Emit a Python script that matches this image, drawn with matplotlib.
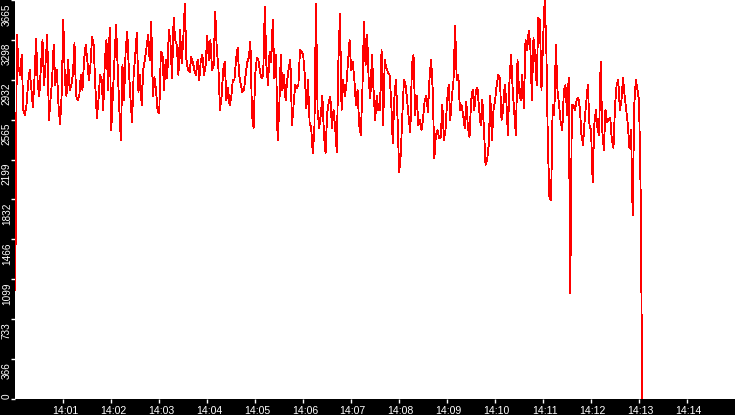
import datetime as dt
import matplotlib
matplotlib.use("Agg")
import matplotlib.pyplot as plt
from matplotlib.transforms import blended_transform_factory, offset_copy

# ---- data (one reading every 2 seconds, starting 14:00:00) ----
minute_00 = [1000, 3343, 3050, 2976, 3160, 2655, 2609, 2700, 2900, 3022,
             2850, 2682, 2950, 3307, 2900, 2783, 3050, 3297, 2884, 3100,
             3343, 2563, 2750, 2930, 3251, 2884, 3022, 2700, 2526, 2800]
minute_01 = [3480, 2930, 2783, 3114, 2838, 2884, 2976, 3270, 2783, 2746,
             2783, 2976, 2838, 3114, 3251, 3114, 2930, 3068, 3325, 3251,
             2884, 2581, 2746, 2976, 2930, 2655, 3114, 3297, 2838, 3408]
minute_02 = [2471, 2783, 3114, 3435, 3050, 2673, 2379, 3068, 2746, 3206,
             3371, 3022, 2765, 2544, 2976, 3160, 3362, 2820, 2976, 2700,
             3022, 3114, 3224, 3343, 3114, 3463, 2783, 2958, 2838, 2636]
minute_03 = [2627, 3187, 3178, 2838, 3114, 2948, 3389, 3279, 2948, 3500,
             3297, 3251, 2976, 3389, 3086, 3297, 3628, 3114, 3022, 3003,
             3141, 3095, 3022, 2976, 3114, 2930, 3114, 3160, 2976, 3068]
minute_04 = [3334, 3114, 3297, 3022, 3068, 3555, 3206, 3040, 2655, 2783,
             3022, 3095, 2746, 2857, 2700, 2765, 2930, 2930, 3114, 3224,
             2976, 2884, 2820, 2838, 2976, 3095, 3132, 3279, 2609, 2490]
minute_05 = [2976, 3132, 3114, 3003, 2948, 2976, 3600, 3068, 2884, 3187,
             3095, 3481, 2948, 3160, 2379, 2655, 3160, 2838, 2976, 2746,
             2930, 3040, 3114, 2517, 2700, 2884, 2857, 2884, 3206, 3187]
minute_06 = [3160, 2976, 2673, 2930, 2544, 2490, 2260, 2471, 3628, 2655,
             2490, 2609, 2783, 2425, 2260, 2627, 2728, 2774, 2490, 2655,
             2490, 2269, 3095, 3536, 2655, 2930, 2783, 2884, 3095, 3297]
minute_07 = [3022, 3095, 2930, 2700, 2838, 2517, 2425, 2820, 3463, 3068,
             3343, 2912, 2765, 3160, 2838, 2563, 2783, 2655, 2655, 3206,
             2517, 3114, 3040, 3003, 2976, 2746, 2351, 2765, 2930, 2581]
minute_08 = [2085, 2241, 2609, 2930, 2884, 2746, 2581, 2452, 3068, 3160,
             2609, 2783, 2517, 2563, 2471, 2581, 2746, 2783, 2636, 2948,
             3114, 2838, 2213, 2425, 2471, 2397, 2400, 2700, 2379, 2471]
minute_09 = [2746, 2884, 2563, 2783, 2930, 3426, 2930, 2976, 2655, 2700,
             2609, 2490, 2728, 2490, 2406, 2746, 2838, 2655, 2838, 2857,
             2655, 2517, 2746, 2490, 2150, 2195, 2333, 2783, 2379, 2655]
minute_10 = [2746, 2884, 2976, 2948, 2563, 2655, 2884, 2746, 2425, 2930,
             3160, 2838, 2636, 2425, 3114, 2820, 2746, 2976, 2673, 3297,
             3206, 3380, 3251, 2746, 3315, 3160, 2884, 3500, 3481, 2838]
minute_11 = [3297, 3665, 3251, 2333, 1837, 1828, 2700, 2609, 3251, 2838,
             2700, 2544, 2471, 2838, 2884, 2609, 2948, 974, 2700, 2700,
             2655, 2746, 2765, 2673, 2425, 2333, 2563, 2719, 2884, 2517]
minute_12 = [2471, 1993, 2517, 2655, 2490, 2425, 3095, 2471, 2287, 2655,
             2544, 2563, 2581, 2379, 2305, 2700, 2884, 2930, 2655, 2746,
             2948, 2783, 2655, 2517, 2305, 2471, 1690, 2700, 2930, 2838]
minute_13 = [2746, 1900, 0]

values = (minute_00 + minute_01 + minute_02 + minute_03 + minute_04 +
          minute_05 + minute_06 + minute_07 + minute_08 + minute_09 +
          minute_10 + minute_11 + minute_12 + minute_13)

start = dt.datetime(2024, 1, 1, 14, 0, 0)
sample_seconds = 2
times = [start + dt.timedelta(seconds=sample_seconds * i) for i in range(len(values))]

y_max = 3665
y_tick_labels = ["0", "366", "733", "1099", "1466", "1832",
                 "2199", "2565", "2932", "3298", "3665"]
x_tick_labels = ["14:01", "14:02", "14:03", "14:04", "14:05", "14:06", "14:07",
                 "14:08", "14:09", "14:10", "14:11", "14:12", "14:13", "14:14"]

# ---- figure ----
W, H = 735, 415
fig = plt.figure(figsize=(W / 100, H / 100), dpi=100, facecolor="black")
left_px, bottom_px = 15.3, 16
ax = fig.add_axes([left_px / W, bottom_px / H, (W - left_px) / W, (H - bottom_px) / H])
ax.set_facecolor("white")

ax.plot(times, values, color="#ff0000", lw=0.6, antialiased=False)

ax.set_xlim(start, start + dt.timedelta(minutes=15))
ax.set_ylim(0, y_max)
for s in ax.spines.values():
    s.set_visible(False)

font = ["Liberation Sans", "DejaVu Sans"]

xticks = [start + dt.timedelta(minutes=i + 1) for i in range(len(x_tick_labels))]
ax.set_xticks(xticks)
ax.set_xticklabels(x_tick_labels, color="white", fontsize=7.6, family=font)
ax.tick_params(axis="x", colors="white", length=3, width=1, pad=2.2)
for t in ax.get_xticklabels():
    t.set_transform(t.get_transform() + 
                    matplotlib.transforms.ScaledTranslation(1.2 / 72, 0, fig.dpi_scale_trans))

yticks = [y_max * i / 10 for i in range(len(y_tick_labels))]
ax.set_yticks(yticks)
ax.set_yticklabels([])
ax.tick_params(axis="y", colors="white", length=3.2, width=1)

trans = blended_transform_factory(ax.transAxes, ax.transData)
x_lab = (9.8 - left_px) / (W - left_px)
for yv, lab in zip(yticks, y_tick_labels):
    if yv == 0:
        tr = trans
        ha = "left"
    else:
        tr = offset_copy(trans, fig=fig, y=-3.0, units="dots")
        ha = "right"
    ax.text(x_lab, yv, lab, transform=tr, rotation=90, rotation_mode="anchor",
            ha=ha, va="baseline", color="white", fontsize=7.2, family=font,
            clip_on=False)

fig.savefig("out.png", dpi=100, facecolor="black")
